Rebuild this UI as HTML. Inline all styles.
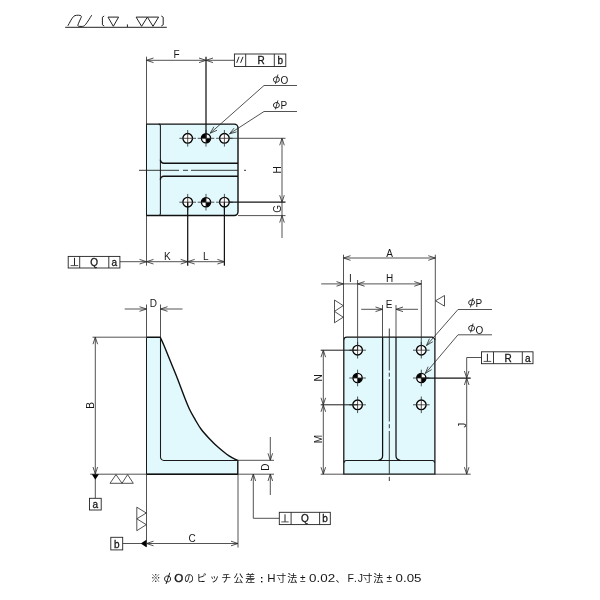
<!DOCTYPE html>
<html><head><meta charset="utf-8"><title>drawing</title>
<style>
html,body{margin:0;padding:0;background:#fff;}
body{width:600px;height:600px;overflow:hidden;}
svg{display:block;will-change:transform;}
text{font-family:"Liberation Sans",sans-serif;font-size:10px;fill:#181818;}
.p{stroke:#1a1a1a;stroke-width:.85;fill:none;}
.b{stroke:#181818;stroke-width:.3;}
.t{stroke:#2c2c2c;stroke-width:.82;fill:none;}
.of{stroke:#101010;stroke-width:1.25;fill:none;}
.k1{stroke:#1c1c1c;stroke-width:1;fill:none;}
.k{stroke:#141414;stroke-width:1.25;fill:none;}
.m{stroke:#222;stroke-width:1;fill:none;}
.bx{stroke:#222;stroke-width:.9;fill:#fff;}
.o{stroke:#101010;stroke-width:1.4;fill:none;stroke-linejoin:round;}
.o3{stroke:#1a1a1a;stroke-width:1.05;fill:none;}
.o2{stroke:#0a0a0a;stroke-width:1.3;fill:none;}
.c{stroke:#222;stroke-width:.9;fill:none;}
.h{stroke:#000;stroke-width:1.35;fill:#fff;}
.f{fill:#000;stroke:none;}
.g{fill:#111;stroke:#111;}
.fill{fill:#e1f9fc;stroke:none;}
.jp{font-family:"Liberation Sans","Noto Sans CJK JP",sans-serif;fill:#111;}
</style></head><body>
<svg width="600" height="600" viewBox="0 0 600 600">
<rect width="600" height="600" fill="#fff"/>
<line class="m" x1="65.2" y1="27.3" x2="166.8" y2="27.3"/>
<path class="m" d="M67.9 25.8C69.5 23 71.5 18.5 73.75 16.3C75 15.2 78 15 80 15.4C81.5 15.8 81.6 16.5 81.2 17.3C80.5 19 78.5 23 77.9 25C77.7 26 78.4 26.4 79.2 26.4L82.5 26.4C84 26.2 85 25.3 85.8 24.2C87.5 22 90 18 91.7 15.2"/>
<path class="m" d="M104.2 16L102.4 17.2L102.4 24.8L104.2 26"/>
<path class="m" d="M108 17.1L118.6 17.1L113.3 26.3Z"/>
<path class="m" d="M127.4 24.4L127.4 27"/>
<path class="m" d="M136.1 17.1L147.4 17.1L141.6 26.3ZM147.4 17.1L158.6 17.1L153 26.3Z"/>
<path class="m" d="M161.3 16L163.2 17.2L163.2 24.8L161.3 26"/>
<path class="fill" d="M146.5 124.1H234A4 4 0 0 1 238 128.1V211.5A4 4 0 0 1 234 215.5H146.5Z"/>
<path class="o" d="M146.0 124.1H234.3A3.7 3.7 0 0 1 238 127.8V211.8A3.7 3.7 0 0 1 234.3 215.5H146.0"/>
<line class="o3" x1="146.5" y1="124.1" x2="146.5" y2="215.5"/>
<line class="o3" x1="160.4" y1="125.6" x2="160.4" y2="214.0"/>
<path class="o" d="M160.4 159.8A3.5 3.5 0 0 0 163.9 163.3H238"/>
<path class="o" d="M160.4 179.7A3.5 3.5 0 0 1 163.9 176.2H238"/>
<path class="o3" d="M160.4 125.89999999999999A1.8 1.8 0 0 0 158.6 124.1"/>
<path class="o3" d="M160.4 213.7A1.8 1.8 0 0 1 158.6 215.5"/>
<path class="c" d="M139 170.3H179M183 170.3H188M191 170.3H238M244 170.3H246"/>
<circle class="h" cx="187.7" cy="138.3" r="4.8"/>
<line class="t" x1="179.39999999999998" y1="138.3" x2="196.0" y2="138.3"/>
<line class="t" x1="187.7" y1="130.0" x2="187.7" y2="146.60000000000002"/>
<circle class="h" cx="187.7" cy="202.2" r="4.8"/>
<line class="t" x1="179.39999999999998" y1="202.2" x2="196.0" y2="202.2"/>
<line class="t" x1="187.7" y1="193.89999999999998" x2="187.7" y2="210.5"/>
<circle class="h" cx="224.4" cy="138.3" r="4.8"/>
<line class="t" x1="216.1" y1="138.3" x2="232.70000000000002" y2="138.3"/>
<line class="t" x1="224.4" y1="130.0" x2="224.4" y2="146.60000000000002"/>
<circle class="h" cx="224.4" cy="202.2" r="4.8"/>
<line class="t" x1="216.1" y1="202.2" x2="232.70000000000002" y2="202.2"/>
<line class="t" x1="224.4" y1="193.89999999999998" x2="224.4" y2="210.5"/>
<circle class="h" cx="206" cy="138.3" r="4.6"/>
<path class="f" d="M206 138.3L201.4 138.3A4.6 4.6 0 0 1 206 133.70000000000002ZM206 138.3L210.6 138.3A4.6 4.6 0 0 1 206 142.9Z"/>
<line class="t" x1="197.7" y1="138.3" x2="214.3" y2="138.3"/>
<line class="t" x1="206" y1="130.0" x2="206" y2="146.60000000000002"/>
<circle class="h" cx="206" cy="202.2" r="4.6"/>
<path class="f" d="M206 202.2L201.4 202.2A4.6 4.6 0 0 1 206 197.6ZM206 202.2L210.6 202.2A4.6 4.6 0 0 1 206 206.79999999999998Z"/>
<line class="t" x1="197.7" y1="202.2" x2="214.3" y2="202.2"/>
<line class="t" x1="206" y1="193.89999999999998" x2="206" y2="210.5"/>
<line class="t" x1="146.5" y1="56.7" x2="146.5" y2="124.1"/>
<line class="k" x1="206" y1="56.7" x2="206" y2="138.3"/>
<line class="t" x1="146.5" y1="60.3" x2="206" y2="60.3"/>
<path class="t" d="M153.5 58.0L146.5 60.3L153.5 62.599999999999994"/>
<path class="t" d="M199 58.0L206 60.3L199 62.599999999999994"/>
<line class="t" x1="206" y1="60.3" x2="234.5" y2="60.3"/>
<path class="t" d="M213 58.0L206 60.3L213 62.599999999999994"/>
<text x="176.5" y="57.8" text-anchor="middle">F</text>
<rect class="bx" x="234.4" y="54" width="51.400000000000006" height="12.5"/>
<line class="bx" x1="245.7" y1="54" x2="245.7" y2="66.5"/>
<line class="bx" x1="274.3" y1="54" x2="274.3" y2="66.5"/>
<text x="261.2" y="64.1" text-anchor="middle" font-size="10.5" class="b">R</text>
<text x="280.4" y="64.1" text-anchor="middle" font-size="10.5" class="b">b</text>
<path class="m" d="M236.7 62.8L239 56.8M240.6 62.8L243 56.8"/>
<line class="t" x1="264" y1="85.5" x2="297" y2="85.5"/>
<line class="t" x1="264" y1="85.5" x2="210.2" y2="133.2"/>
<line class="t" x1="264" y1="111.5" x2="297" y2="111.5"/>
<line class="t" x1="264" y1="111.5" x2="229.5" y2="133.8"/>
<ellipse class="p" cx="276.4" cy="79.6" rx="3.0" ry="2.7" transform="rotate(-15 276.4 79.6)"/>
<line class="p" x1="277.96" y1="74.5" x2="275.36" y2="83.9"/>
<text x="280.5" y="84.1" text-anchor="start" font-size="10.8">O</text>
<ellipse class="p" cx="276.4" cy="105.2" rx="3.0" ry="2.7" transform="rotate(-15 276.4 105.2)"/>
<line class="p" x1="277.88" y1="100.4" x2="275.39" y2="109.4"/>
<text x="280.4" y="109.3" text-anchor="start" font-size="9.8">P</text>
<path class="t" d="M213.9 126.8L210.2 133.2L217.0 130.3"/>
<path class="t" d="M234.1 128.1L229.5 133.8L236.6 131.9"/>
<line class="t" x1="229" y1="138.3" x2="285.5" y2="138.3"/>
<line class="k" x1="229" y1="202.2" x2="285.5" y2="202.2"/>
<line class="t" x1="238" y1="215.6" x2="285.5" y2="215.6"/>
<line class="t" x1="282" y1="138.3" x2="282" y2="238"/>
<path class="t" d="M279.7 145.3L282 138.3L284.3 145.3"/>
<path class="t" d="M279.7 195.2L282 202.2L284.3 195.2"/>
<path class="t" d="M279.7 222.6L282 215.6L284.3 222.6"/>
<text text-anchor="middle" transform="translate(280.6 169.8) rotate(-90)">H</text>
<text text-anchor="middle" transform="translate(280.6 208.8) rotate(-90)">G</text>
<line class="t" x1="146.5" y1="215.5" x2="146.5" y2="265.7"/>
<line class="k" x1="187.7" y1="202.2" x2="187.7" y2="265.7"/>
<line class="k" x1="224.4" y1="202.2" x2="224.4" y2="265.7"/>
<line class="t" x1="119.9" y1="261.7" x2="224.4" y2="261.7"/>
<path class="t" d="M139.5 259.4L146.5 261.7L139.5 264.0"/>
<path class="t" d="M153.5 259.4L146.5 261.7L153.5 264.0"/>
<path class="t" d="M180.7 259.4L187.7 261.7L180.7 264.0"/>
<path class="t" d="M194.7 259.4L187.7 261.7L194.7 264.0"/>
<path class="t" d="M217.4 259.4L224.4 261.7L217.4 264.0"/>
<text x="167.3" y="259.9" text-anchor="middle">K</text>
<text x="205.7" y="259.9" text-anchor="middle">L</text>
<rect class="bx" x="68.2" y="256.4" width="51.7" height="11.600000000000023"/>
<line class="bx" x1="79.7" y1="256.4" x2="79.7" y2="268"/>
<line class="bx" x1="108.8" y1="256.4" x2="108.8" y2="268"/>
<text x="94.2" y="265.9" text-anchor="middle" font-size="10.5" class="b">Q</text>
<text x="114.4" y="265.9" text-anchor="middle" font-size="10.5" class="b">a</text>
<path class="m" d="M74.5 257.8V265.5"/>
<path class="t" d="M70.6 265.6H78.2"/>
<path class="fill" d="M146.5 337.3H159.6C159.7 337.4 159.7 336.2 160.4 337.6C161.1 339.0 162.4 341.7 164 345.5C165.6 349.3 167.8 354.8 170 360.3C172.2 365.8 175.0 372.2 177.5 378.7C180.0 385.1 183.1 393.7 185.2 399C187.3 404.3 188.3 406.8 190 410.3C191.7 413.8 193.5 416.7 195.3 419.8C197.1 422.9 198.7 425.9 201 429C203.3 432.1 206.3 435.4 209.2 438.5C212.1 441.6 215.6 445.0 218.5 447.6C221.4 450.2 224.4 452.5 226.7 454.2C229.0 455.9 230.7 456.8 232.5 457.8C234.3 458.9 236.9 460.1 237.8 460.5V474.2H146.5Z"/>
<path class="o" d="M146.5 337.3H159.6C159.7 337.4 159.7 336.2 160.4 337.6C161.1 339.0 162.4 341.7 164 345.5C165.6 349.3 167.8 354.8 170 360.3C172.2 365.8 175.0 372.2 177.5 378.7C180.0 385.1 183.1 393.7 185.2 399C187.3 404.3 188.3 406.8 190 410.3C191.7 413.8 193.5 416.7 195.3 419.8C197.1 422.9 198.7 425.9 201 429C203.3 432.1 206.3 435.4 209.2 438.5C212.1 441.6 215.6 445.0 218.5 447.6C221.4 450.2 224.4 452.5 226.7 454.2C229.0 455.9 230.7 456.8 232.5 457.8C234.3 458.9 236.9 460.1 237.8 460.5V474.2"/>
<line class="o3" x1="146.5" y1="337.3" x2="146.5" y2="474.2"/>
<path class="o3" d="M160.5 338.5V457A3.3 3.3 0 0 0 163.8 460.4H238"/>
<line class="t" x1="90.2" y1="474.2" x2="274" y2="474.2"/>
<line class="o" x1="146.5" y1="474.2" x2="238" y2="474.2"/>
<line class="t" x1="146.5" y1="304.5" x2="146.5" y2="337"/>
<line class="t" x1="160.5" y1="304.5" x2="160.5" y2="337"/>
<line class="t" x1="124.7" y1="309" x2="146.5" y2="309"/>
<line class="t" x1="160.5" y1="309" x2="182.5" y2="309"/>
<path class="t" d="M139.5 306.7L146.5 309L139.5 311.3"/>
<path class="t" d="M167.5 306.7L160.5 309L167.5 311.3"/>
<text x="153.4" y="307.3" text-anchor="middle">D</text>
<line class="t" x1="92.5" y1="337.2" x2="146.5" y2="337.2"/>
<line class="t" x1="95.3" y1="337.2" x2="95.3" y2="474"/>
<path class="t" d="M93.0 344.2L95.3 337.2L97.6 344.2"/>
<path class="t" d="M93.0 467L95.3 474L97.6 467"/>
<text text-anchor="middle" transform="translate(93.6 405.5) rotate(-90)">B</text>
<path class="f" d="M91.8 474.2H98.9L95.3 479.8Z"/>
<line class="t" x1="95.3" y1="479" x2="95.3" y2="498.3"/>
<rect class="bx" x="89.5" y="498.3" width="11.700000000000003" height="11.699999999999989"/>
<text x="95.4" y="508.2" text-anchor="middle" font-size="10.5" class="b">a</text>
<path class="t" d="M110 483.3L116 474.6L122 483.3ZM122 483.3L127.6 474.6L133.3 483.3Z"/>
<line class="t" x1="146.5" y1="474" x2="146.5" y2="547"/>
<line class="t" x1="238" y1="474" x2="238" y2="547.5"/>
<path class="t" d="M136.8 507.2L146.3 513L136.8 518.8ZM136.8 518.8L146.3 524.7L136.8 530.7Z"/>
<path class="f" d="M146.4 539.8V547.2L140.7 543.5Z"/>
<line class="t" x1="122.7" y1="543.5" x2="141.5" y2="543.5"/>
<rect class="bx" x="110.8" y="537.3" width="11.900000000000006" height="12.600000000000023"/>
<text x="116.8" y="547.6" text-anchor="middle" font-size="10.5" class="b">b</text>
<line class="t" x1="146.5" y1="543.5" x2="238" y2="543.5"/>
<path class="t" d="M153.5 541.2L146.5 543.5L153.5 545.8"/>
<path class="t" d="M231 541.2L238 543.5L231 545.8"/>
<text x="192" y="541.6" text-anchor="middle">C</text>
<line class="t" x1="238" y1="460.3" x2="274" y2="460.3"/>
<line class="t" x1="270.3" y1="437" x2="270.3" y2="460.3"/>
<line class="t" x1="270.3" y1="474" x2="270.3" y2="495"/>
<path class="t" d="M268.0 453.3L270.3 460.3L272.6 453.3"/>
<path class="t" d="M268.0 481L270.3 474L272.6 481"/>
<text text-anchor="middle" transform="translate(268.8 467.2) rotate(-90)">D</text>
<path class="t" d="M253.3 474V518.3H279.4"/>
<path class="t" d="M251.0 481L253.3 474L255.60000000000002 481"/>
<rect class="bx" x="279.3" y="512.3" width="51.0" height="12.300000000000068"/>
<line class="bx" x1="291.1" y1="512.3" x2="291.1" y2="524.6"/>
<line class="bx" x1="319.6" y1="512.3" x2="319.6" y2="524.6"/>
<text x="305" y="522.4" text-anchor="middle" font-size="10.5" class="b">Q</text>
<text x="325.1" y="522.4" text-anchor="middle" font-size="10.5" class="b">b</text>
<path class="m" d="M285 514.3V521.8"/>
<path class="t" d="M281.3 521.9H288.7"/>
<path class="fill" d="M346.8 337.2H431.9A3 3 0 0 1 434.9 340.2V474.2H343.8V340.2A3 3 0 0 1 346.8 337.2Z"/>
<path class="of" d="M346.8 337.2H431.9A3 3 0 0 1 434.9 340.2V474.2H343.8V340.2A3 3 0 0 1 346.8 337.2Z"/>
<path class="o3" d="M344.1 462.7A2.2 2.2 0 0 1 346.3 460.5H432.4A2.2 2.2 0 0 1 434.59999999999997 462.7"/>
<path class="of" d="M382.6 337.3V456A4.3 4.3 0 0 1 378.3 460.3"/>
<path class="of" d="M396 337.3V456A4.3 4.3 0 0 0 400.3 460.3"/>
<path class="c" d="M389.3 328.5V370.5M389.3 372.7V376.7M389.3 379V421.5M389.3 424.2V428.2M389.3 431V473.8M389.3 476.8V481"/>
<circle class="h" cx="357.6" cy="350.2" r="4.8"/>
<line class="t" x1="349.3" y1="350.2" x2="365.90000000000003" y2="350.2"/>
<line class="t" x1="357.6" y1="341.9" x2="357.6" y2="358.5"/>
<circle class="h" cx="357.6" cy="404.8" r="4.8"/>
<line class="t" x1="349.3" y1="404.8" x2="365.90000000000003" y2="404.8"/>
<line class="t" x1="357.6" y1="396.5" x2="357.6" y2="413.1"/>
<circle class="h" cx="357.6" cy="378" r="4.6"/>
<path class="f" d="M357.6 378L353.0 378A4.6 4.6 0 0 1 357.6 373.4ZM357.6 378L362.20000000000005 378A4.6 4.6 0 0 1 357.6 382.6Z"/>
<line class="t" x1="349.3" y1="378" x2="365.90000000000003" y2="378"/>
<line class="t" x1="357.6" y1="369.7" x2="357.6" y2="386.3"/>
<circle class="h" cx="421.3" cy="350.2" r="4.8"/>
<line class="t" x1="413.0" y1="350.2" x2="429.6" y2="350.2"/>
<line class="t" x1="421.3" y1="341.9" x2="421.3" y2="358.5"/>
<circle class="h" cx="421.3" cy="404.8" r="4.8"/>
<line class="t" x1="413.0" y1="404.8" x2="429.6" y2="404.8"/>
<line class="t" x1="421.3" y1="396.5" x2="421.3" y2="413.1"/>
<circle class="h" cx="421.3" cy="378" r="4.6"/>
<path class="f" d="M421.3 378L416.7 378A4.6 4.6 0 0 1 421.3 373.4ZM421.3 378L425.90000000000003 378A4.6 4.6 0 0 1 421.3 382.6Z"/>
<line class="t" x1="413.0" y1="378" x2="429.6" y2="378"/>
<line class="t" x1="421.3" y1="369.7" x2="421.3" y2="386.3"/>
<line class="t" x1="343.5" y1="254.7" x2="343.5" y2="340.2"/>
<line class="t" x1="435.3" y1="254.7" x2="435.3" y2="340.2"/>
<line class="t" x1="343.5" y1="258" x2="435.3" y2="258"/>
<path class="t" d="M350.5 255.7L343.5 258L350.5 260.3"/>
<path class="t" d="M428.3 255.7L435.3 258L428.3 260.3"/>
<text x="389.5" y="257.2" text-anchor="middle">A</text>
<line class="t" x1="321.2" y1="283.9" x2="421.3" y2="283.9"/>
<path class="t" d="M336.5 281.59999999999997L343.5 283.9L336.5 286.2"/>
<path class="t" d="M364.6 281.59999999999997L357.6 283.9L364.6 286.2"/>
<path class="t" d="M414.3 281.59999999999997L421.3 283.9L414.3 286.2"/>
<line class="t" x1="357.6" y1="280" x2="357.6" y2="350.2"/>
<line class="t" x1="421.3" y1="280" x2="421.3" y2="350.2"/>
<text x="350.5" y="282.1" text-anchor="middle">I</text>
<text x="389.6" y="282.1" text-anchor="middle">H</text>
<line class="t" x1="382.5" y1="305" x2="382.5" y2="337.2"/>
<line class="t" x1="396" y1="305" x2="396" y2="337.2"/>
<line class="t" x1="361.2" y1="309.3" x2="382.5" y2="309.3"/>
<line class="t" x1="396" y1="309.3" x2="418" y2="309.3"/>
<path class="t" d="M375.5 307.0L382.5 309.3L375.5 311.6"/>
<path class="t" d="M403 307.0L396 309.3L403 311.6"/>
<text x="389.2" y="307.6" text-anchor="middle">E</text>
<path class="t" d="M334.5 300L343.2 305.6L334.5 311.4ZM334.5 311.4L343.2 317.2L334.5 322.8Z"/>
<path class="t" d="M444.5 295.5L435.5 300.8L444.5 306.1Z"/>
<line class="t" x1="458" y1="309.5" x2="492" y2="309.5"/>
<line class="t" x1="458" y1="309.5" x2="426.5" y2="345.5"/>
<path class="t" d="M429.4 338.7L426.5 345.5L432.8 341.7"/>
<line class="t" x1="458" y1="334.8" x2="492" y2="334.8"/>
<line class="t" x1="458" y1="334.8" x2="425.3" y2="373.5"/>
<path class="t" d="M428.1 366.7L425.3 373.5L431.6 369.6"/>
<ellipse class="p" cx="471.6" cy="302.5" rx="3.0" ry="2.5" transform="rotate(-15 471.6 302.5)"/>
<line class="p" x1="473.0" y1="298" x2="470.39" y2="307.4"/>
<text x="475.4" y="307" text-anchor="start" font-size="9.4">P</text>
<ellipse class="p" cx="471.6" cy="328.2" rx="3.0" ry="2.7" transform="rotate(-15 471.6 328.2)"/>
<line class="p" x1="473.05" y1="323.5" x2="470.56" y2="332.5"/>
<text x="475.5" y="333.9" text-anchor="start" font-size="11.4">O</text>
<line class="k1" x1="320.7" y1="350.2" x2="357.6" y2="350.2"/>
<line class="k1" x1="320.7" y1="404.8" x2="357.6" y2="404.8"/>
<line class="t" x1="320.7" y1="474.2" x2="343.8" y2="474.2"/>
<line class="t" x1="323.3" y1="350.2" x2="323.3" y2="474.2"/>
<path class="t" d="M321.0 357.2L323.3 350.2L325.6 357.2"/>
<path class="t" d="M321.0 397.8L323.3 404.8L325.6 397.8"/>
<path class="t" d="M321.0 411.8L323.3 404.8L325.6 411.8"/>
<path class="t" d="M321.0 467.2L323.3 474.2L325.6 467.2"/>
<text text-anchor="middle" transform="translate(322.4 378) rotate(-90)">N</text>
<text text-anchor="middle" transform="translate(322.4 439.2) rotate(-90)">M</text>
<line class="k" x1="421.3" y1="378" x2="470.7" y2="378"/>
<line class="t" x1="434.9" y1="474.2" x2="470.7" y2="474.2"/>
<path class="t" d="M481.5 357.5H466.7V474.2"/>
<path class="t" d="M464.4 371L466.7 378L469.0 371"/>
<path class="t" d="M464.4 385L466.7 378L469.0 385"/>
<path class="t" d="M464.4 467.2L466.7 474.2L469.0 467.2"/>
<text text-anchor="middle" transform="translate(466.1 425.3) rotate(-90)">J</text>
<rect class="bx" x="481.5" y="351.8" width="51.5" height="11.899999999999977"/>
<line class="bx" x1="493.5" y1="351.8" x2="493.5" y2="363.7"/>
<line class="bx" x1="522.3" y1="351.8" x2="522.3" y2="363.7"/>
<text x="508" y="361.8" text-anchor="middle" font-size="10.5" class="b">R</text>
<text x="527.8" y="361.8" text-anchor="middle" font-size="10.5" class="b">a</text>
<path class="m" d="M487.4 353.8V361.3"/>
<path class="t" d="M483.6 361.4H491.2"/>
<text class="jp" x="155.8" y="582.4" text-anchor="middle" font-size="11.7">※</text>
<ellipse class="m" cx="167.6" cy="578.9" rx="3.1" ry="3" transform="rotate(-18 167.6 578.9)" style="stroke-width:.9"/>
<line class="m" x1="169.8" y1="572.8" x2="166" y2="584"/>
<text font-size="10.3" transform="translate(174.15 582.4) scale(1.16 1)"><tspan stroke="#181818" stroke-width=".35">O</tspan></text>
<text class="jp" x="189.1" y="582.4" text-anchor="middle" font-size="11.7">の</text>
<text class="jp" x="201.5" y="582.4" text-anchor="middle" font-size="11.7">ピ</text>
<text class="jp" x="214.5" y="582.4" text-anchor="middle" font-size="11.7">ッ</text>
<text class="jp" x="226.3" y="582.4" text-anchor="middle" font-size="11.7">チ</text>
<text class="jp" x="238.4" y="582.4" text-anchor="middle" font-size="11.7">公</text>
<text class="jp" x="250.3" y="582.4" text-anchor="middle" font-size="11.7">差</text>
<rect class="f" x="261" y="577" width="1.4" height="1.4"/><rect class="f" x="261" y="581" width="1.4" height="1.4"/>
<text font-size="10" transform="translate(267.2 582.3) scale(1.15 1)">H</text>
<text class="jp" x="281.35" y="582.4" text-anchor="middle" font-size="10.4">寸</text>
<text class="jp" x="292.16" y="582.4" text-anchor="middle" font-size="10.4">法</text>
<text class="jp" x="302.85" y="582.4" text-anchor="middle" font-size="10.4">±</text>
<text font-size="10" transform="translate(309.1 582.3) scale(1.34 1)">0.02</text>
<text class="jp" x="335.5" y="582.4" font-size="10.4">、</text>
<text font-size="10" transform="translate(347.4 582.3) scale(1.05 1)">F</text>
<text font-size="10" transform="translate(354.1 582.3) scale(1 1)">.</text>
<text font-size="10" transform="translate(357.7 582.3) scale(1.05 1)">J</text>
<text class="jp" x="367.5" y="582.4" text-anchor="middle" font-size="10.4">寸</text>
<text class="jp" x="378.36" y="582.4" text-anchor="middle" font-size="10.4">法</text>
<text class="jp" x="389.35" y="582.4" text-anchor="middle" font-size="10.4">±</text>
<text font-size="10" transform="translate(395.6 582.3) scale(1.33 1)">0.05</text>
</svg>
</body></html>
